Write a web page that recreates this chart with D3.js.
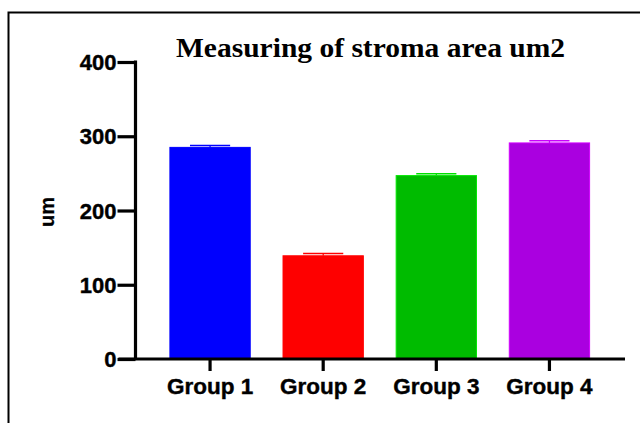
<!DOCTYPE html>
<html>
<head>
<meta charset="utf-8">
<script src="https://cdn.jsdelivr.net/npm/d3@7"></script>
<style>
  html, body { margin: 0; padding: 0; background: #fff; }
  svg { display: block; }
</style>
</head>
<body>
<svg id="chart" width="640" height="423"></svg>
<script>
const categories = ["Group 1", "Group 2", "Group 3", "Group 4"];
const means = [285, 139, 247, 291];
const errors = [2.5, 3, 2.5, 3];
const colors = ["#0000fe", "#fe0000", "#00bb00", "#aa00e0"];
const yTicks = [0, 100, 200, 300, 400];
const title = "Measuring of stroma area um2";
const yLabel = "um";

const svg = d3.select("#chart");

// outer frame
svg.append("rect")
  .attr("x", 8.5).attr("y", 12.5)
  .attr("width", 700).attr("height", 500)
  .attr("fill", "none").attr("stroke", "#000").attr("stroke-width", 2);

const y = d3.scaleLinear().domain([0, 400]).range([359, 62]);
const x = d3.scaleBand().domain(categories).range([153.5, 606])
  .paddingInner(0.29).paddingOuter(0.145);

const axisX = 135.5;

// bars
svg.selectAll("rect.bar").data(categories).enter().append("rect")
  .attr("class", "bar")
  .attr("x", d => x(d))
  .attr("y", (d, i) => y(means[i]))
  .attr("width", x.bandwidth())
  .attr("height", (d, i) => y(0) - y(means[i]))
  .attr("fill", (d, i) => colors[i])
  .attr("stroke", (d, i) => d3.color(colors[i]).brighter(0.6))
  .attr("stroke-width", 1);

// error bars
const eb = svg.selectAll("g.err").data(categories).enter().append("g").attr("class", "err");
eb.append("line")
  .attr("x1", d => x(d) + x.bandwidth() / 2)
  .attr("x2", d => x(d) + x.bandwidth() / 2)
  .attr("y1", (d, i) => y(means[i]))
  .attr("y2", (d, i) => y(means[i] + errors[i]))
  .attr("stroke", (d, i) => d3.color(colors[i]).brighter(0.5))
  .attr("stroke-width", 1.2);
eb.append("line")
  .attr("x1", d => x(d) + x.bandwidth() / 4)
  .attr("x2", d => x(d) + x.bandwidth() * 3 / 4)
  .attr("y1", (d, i) => y(means[i] + errors[i]))
  .attr("y2", (d, i) => y(means[i] + errors[i]))
  .attr("stroke", (d, i) => d3.color(colors[i]).brighter(0.5))
  .attr("stroke-width", 1.6);

// y axis
const yAxis = d3.axisLeft(y).tickValues(yTicks).tickSize(18).tickPadding(1).tickSizeOuter(0);
const gy = svg.append("g").attr("transform", `translate(${axisX},0)`).call(yAxis);
gy.select(".domain").attr("stroke", "#000").attr("stroke-width", 3.2)
  .attr("d", `M0,${y(400) - 1.5}V${y(0)}`);
gy.selectAll(".tick line").attr("stroke", "#000").attr("stroke-width", 3.2);
gy.selectAll(".tick text")
  .attr("font-family", "Liberation Sans, Arial, sans-serif")
  .attr("font-weight", "bold").attr("font-size", 22).attr("fill", "#000")
  .attr("stroke", "#000").attr("stroke-width", 0.4)
  .attr("dy", "0.35em");

// x axis
const xAxis = d3.axisBottom(x).tickSize(12).tickPadding(7).tickSizeOuter(0);
const gx = svg.append("g").attr("transform", `translate(0,${y(0)})`).call(xAxis);
gx.select(".domain").attr("stroke", "#000").attr("stroke-width", 3.2)
  .attr("d", `M${axisX - 17},0H625`);
gx.selectAll(".tick line").attr("stroke", "#000").attr("stroke-width", 3.2);
gx.selectAll(".tick text")
  .attr("font-family", "Liberation Sans, Arial, sans-serif")
  .attr("font-weight", "bold").attr("font-size", 22.5).attr("fill", "#000")
  .attr("stroke", "#000").attr("stroke-width", 0.4);

// y label
svg.append("text")
  .attr("transform", "translate(54,212) rotate(-90)")
  .attr("text-anchor", "middle")
  .attr("font-family", "Liberation Sans, Arial, sans-serif")
  .attr("font-weight", "bold").attr("font-size", 20).attr("fill", "#000")
  .attr("stroke", "#000").attr("stroke-width", 0.3)
  .text(yLabel);

// title
svg.append("text")
  .attr("x", 370.5).attr("y", 57)
  .attr("text-anchor", "middle")
  .attr("font-family", "Liberation Serif, 'Times New Roman', serif")
  .attr("font-weight", "bold").attr("font-size", 28).attr("fill", "#000")
  .attr("textLength", 389).attr("lengthAdjust", "spacingAndGlyphs")
  .text(title);
</script>
</body>
</html>
